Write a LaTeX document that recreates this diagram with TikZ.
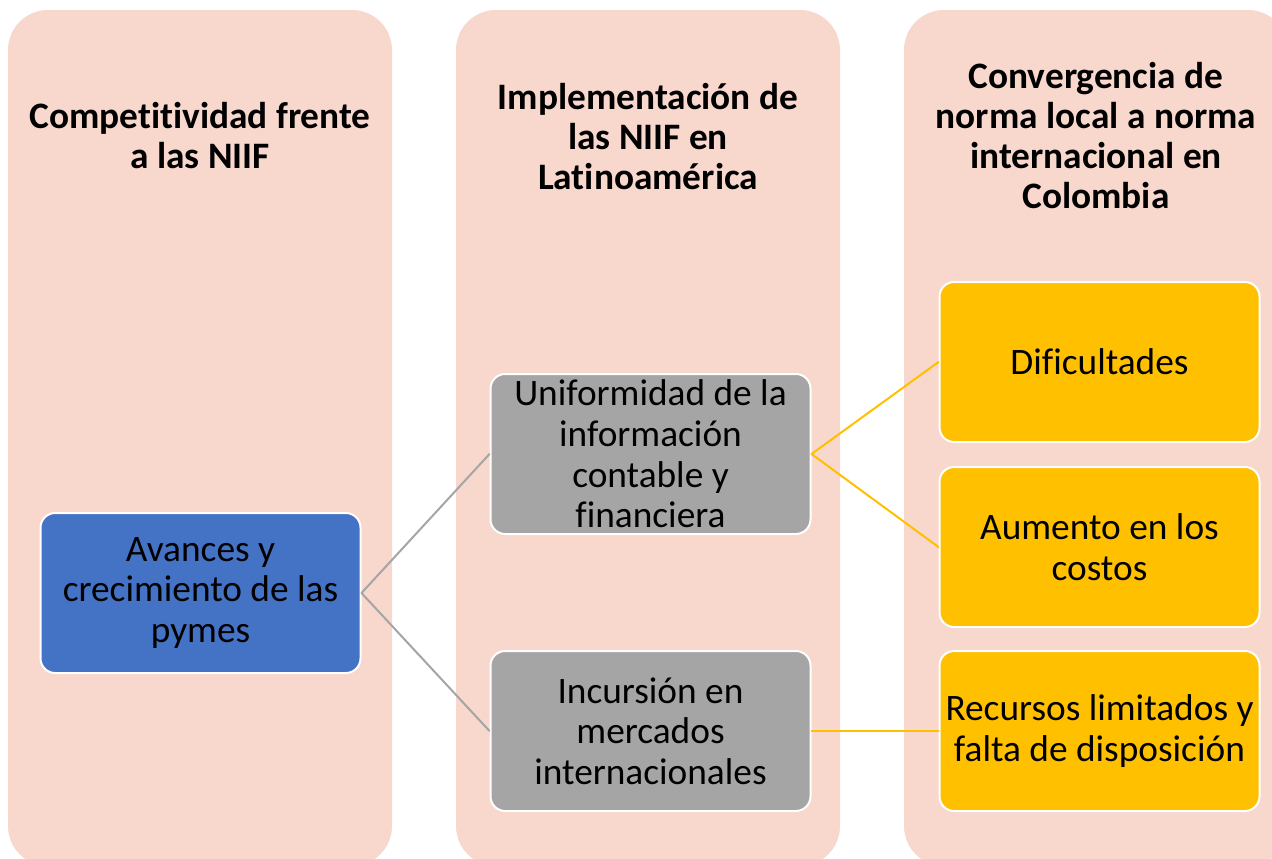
\documentclass[tikz,border=0pt]{standalone}
\usepackage{fontspec}
\setmainfont{Carlito}[Ligatures=CommonOff]
\usepackage{xcolor}
\usepackage{tikz}
\usetikzlibrary{positioning}
\definecolor{fondo}{HTML}{F8D7CD}
\definecolor{azul}{HTML}{4472C4}
\definecolor{gris}{HTML}{A5A5A5}
\definecolor{amarillo}{HTML}{FFC000}
\tikzstyle{columna} = [fill=fondo,rounded corners=30pt]
\tikzstyle{titulo} = [align=center,font=\fontsize{28}{30}\selectfont\bfseries]
\tikzstyle{caja} = [draw=white,line width=1.5pt,rounded corners=11pt,minimum width=240pt,minimum height=120pt,inner sep=0pt,align=center,font=\fontsize{28}{30.5}\selectfont]
\tikzstyle{lineagris} = [draw=gris,line width=1.5pt]
\tikzstyle{lineaamarilla} = [draw=amarillo,line width=1.5pt]

\begin{document}
\begin{tikzpicture}[line cap=round,line join=round,x=0.75pt,y=-0.75pt]
                \useasboundingbox (0,0) rectangle (1272,858);
                \clip (0,0) rectangle (1272,858);
                \fill[columna] (8,10) rectangle (392,866);
                \fill[columna] (456,10) rectangle (840,866);
                \fill[columna] (904,10) rectangle (1288,866);
                \node[titulo] (tcompetitividad) at (200,136) {Competitividad frente\\a las NIIF};
                \node[titulo] (timplementacion) at (648,137) {Implementación de\\las NIIF en\\Latinoamérica};
                \node[titulo] (tconvergencia) at (1096,136) {Convergencia de\\norma local a norma\\internacional en\\Colombia};
                \node[caja,fill=azul] (avances) at (200.5,593) {Avances y\\crecimiento de las\\pymes};
                \node[caja,fill=gris] (uniformidad) at (650.5,454) {Uniformidad de la\\información\\contable y\\financiera};
                \node[caja,fill=gris] (incursion) at (650.5,731) {Incursión en\\mercados\\internacionales};
                \node[caja,fill=amarillo] (dificultades) at (1099.5,362) {Dificultades};
                \node[caja,fill=amarillo] (aumento) at (1099.5,547) {Aumento en los\\costos};
                \node[caja,fill=amarillo] (recursos) at (1099.5,731) {Recursos limitados y\\falta de disposición};
                \draw[lineagris] (avances.east) -- (uniformidad.west);
                \draw[lineagris] (avances.east) -- (incursion.west);
                \draw[lineaamarilla] (uniformidad.east) -- (dificultades.west);
                \draw[lineaamarilla] (uniformidad.east) -- (aumento.west);
                \draw[lineaamarilla] (incursion.east) -- (recursos.west);
            \end{tikzpicture}
\end{document}
